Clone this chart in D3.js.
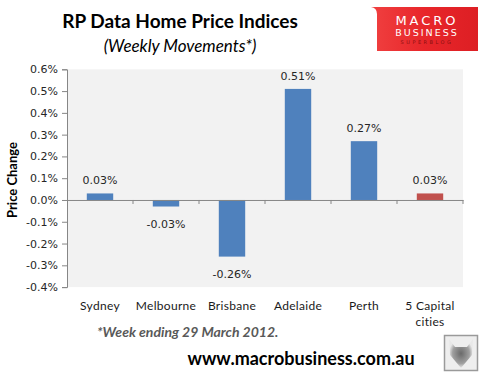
<!DOCTYPE html>
<html><head><meta charset="utf-8">
<script src="https://cdn.jsdelivr.net/npm/d3@7"></script>
<style>html,body{margin:0;padding:0;background:#fff;}svg{display:block;}</style>
</head><body>
<svg id="c" width="486" height="377"></svg>
<script>
const categories = ["Sydney", "Melbourne", "Brisbane", "Adelaide", "Perth", "5 Capital cities"];
const values = [0.03, -0.03, -0.26, 0.51, 0.27, 0.03];
const yTicks = [-0.4, -0.3, -0.2, -0.1, 0.0, 0.1, 0.2, 0.3, 0.4, 0.5, 0.6];
const barColors = ["#4f81bd", "#4f81bd", "#4f81bd", "#4f81bd", "#4f81bd", "#c0504d"];

const svg = d3.select("#c");
const F = "Lato, 'Open Sans', sans-serif";
const plot = {l: 67, r: 463, t: 69.3, b: 287.1};
const fmt1 = d => d3.format(".1f")(d).replace("\u2212", "-") + "%";
const fmt2 = d => d3.format(".2f")(d).replace("\u2212", "-") + "%";

svg.append("rect").attr("x", plot.l).attr("y", plot.t).attr("width", plot.r - plot.l).attr("height", plot.b - plot.t).attr("fill", "#f2f2f2");

const x = d3.scaleBand().domain(categories).range([plot.l, plot.r]).paddingInner(0.6).paddingOuter(0.3);
const xb = d3.scaleBand().domain(categories).range([plot.l, plot.r]);
const y = d3.scaleLinear().domain([-0.4, 0.6]).range([plot.b, plot.t]);

// y axis
const yAxis = svg.append("g").attr("transform", `translate(${plot.l},0)`)
  .call(d3.axisLeft(y).tickValues(yTicks).tickSize(5).tickPadding(4).tickFormat(fmt1));
yAxis.select(".domain").attr("stroke", "#868686");
yAxis.selectAll(".tick line").attr("stroke", "#868686");
yAxis.selectAll("text").attr("font-family", "Tahoma, 'DejaVu Sans', sans-serif").attr("font-size", 11).attr("fill", "#262626");

// bars
svg.append("g").selectAll("rect").data(values).join("rect")
  .attr("x", (d, i) => x(categories[i]))
  .attr("width", x.bandwidth())
  .attr("y", d => y(Math.max(0, d)))
  .attr("height", d => Math.abs(y(d) - y(0)))
  .attr("fill", (d, i) => barColors[i]);

// zero axis
const xAxis = svg.append("g").attr("transform", `translate(0,${y(0)})`)
  .call(d3.axisBottom(xb).tickSize(0).tickFormat(""));
xAxis.select(".domain").attr("stroke", "#868686");
svg.append("g").selectAll("line").data(categories).join("line")
  .attr("x1", d => xb(d) + xb.bandwidth()).attr("x2", d => xb(d) + xb.bandwidth())
  .attr("y1", y(0)).attr("y2", y(0) + 4).attr("stroke", "#868686");

// data labels
svg.append("g").selectAll("text").data(values).join("text")
  .attr("x", (d, i) => x(categories[i]) + x.bandwidth() / 2)
  .attr("y", d => d >= 0 ? y(d) - 9 : y(d) + 21)
  .attr("text-anchor", "middle")
  .attr("font-family", "Tahoma, 'DejaVu Sans', sans-serif").attr("font-size", 11).attr("fill", "#262626")
  .text(fmt2);

// category labels
const catG = svg.append("g");
categories.forEach(c => {
  const lines = c === "5 Capital cities" ? ["5 Capital", "cities"] : [c];
  const t = catG.append("text").attr("text-anchor", "middle")
    .attr("font-family", F).attr("font-size", 12).attr("fill", "#1a1a1a").attr("letter-spacing", 0.3);
  lines.forEach((ln, k) => t.append("tspan").attr("x", xb(c) + xb.bandwidth() / 2).attr("y", 310 + k * 16).text(ln));
});

// axis title
svg.append("text").attr("transform", "translate(17,180) rotate(-90)").attr("text-anchor", "middle")
  .attr("font-family", F).attr("font-weight", "bold").attr("font-size", 13).attr("fill", "#000").text("Price Change");

// titles
svg.append("text").attr("x", 180).attr("y", 28).attr("text-anchor", "middle")
  .attr("font-family", F).attr("font-weight", "bold").attr("font-size", 19).attr("fill", "#000").text("RP Data Home Price Indices");
svg.append("text").attr("x", 180).attr("y", 52).attr("text-anchor", "middle")
  .attr("font-family", F).attr("font-style", "italic").attr("font-size", 17).attr("fill", "#000").text("(Weekly Movements*)");

// footnote
svg.append("text").attr("x", 97).attr("y", 337)
  .attr("font-family", F).attr("font-weight", "bold").attr("font-style", "italic").attr("font-size", 14).attr("fill", "#595959").text("*Week ending 29  March 2012.");
svg.append("text").attr("x", 301).attr("y", 365).attr("text-anchor", "middle")
  .attr("font-family", F).attr("font-weight", "bold").attr("font-size", 18).attr("fill", "#000").text("www.macrobusiness.com.au");

// logo
const defs = svg.append("defs");
const lg = defs.append("linearGradient").attr("id", "rg").attr("x1", 0).attr("x2", 1).attr("y1", 0).attr("y2", 0);
lg.append("stop").attr("offset", "0").attr("stop-color", "#f04040");
lg.append("stop").attr("offset", "0.5").attr("stop-color", "#e8262a");
lg.append("stop").attr("offset", "1").attr("stop-color", "#dd1f24");
svg.append("path").attr("d", "M373,7 L478,7 L478,51 L377,51 L377,14 Q377,8 371,7 Z").attr("fill", "url(#rg)");
svg.append("text").attr("x", 427).attr("y", 25).attr("text-anchor", "middle").attr("font-family", "'DejaVu Sans', sans-serif")
  .attr("font-size", 13).attr("letter-spacing", 3).attr("fill", "#fff").text("MACRO");
svg.append("text").attr("x", 427).attr("y", 36).attr("text-anchor", "middle").attr("font-family", "'DejaVu Sans', sans-serif")
  .attr("font-size", 9.5).attr("letter-spacing", 2).attr("fill", "#fff").text("BUSINESS");
svg.append("text").attr("x", 427).attr("y", 44).attr("text-anchor", "middle").attr("font-family", "'DejaVu Sans', sans-serif")
  .attr("font-size", 5).attr("letter-spacing", 2.5).attr("fill", "#8a1010").text("SUPERBLOG");

// wolf badge
const wg = defs.append("radialGradient").attr("id", "wg");
wg.append("stop").attr("offset", "0").attr("stop-color", "#6a6a6a");
wg.append("stop").attr("offset", "0.7").attr("stop-color", "#a0a0a0");
wg.append("stop").attr("offset", "1").attr("stop-color", "#e8e8e8");
svg.append("rect").attr("x", 444.5).attr("y", 335.5).attr("width", 33).attr("height", 35).attr("fill", "#eee").attr("stroke", "#9a9a9a").attr("stroke-width", 1.5);
svg.append("path").attr("d", "M449,339 L455,347 L467,347 L473,339 L472,355 L461,368 L450,355 Z").attr("fill", "url(#wg)");
</script>
</body></html>
